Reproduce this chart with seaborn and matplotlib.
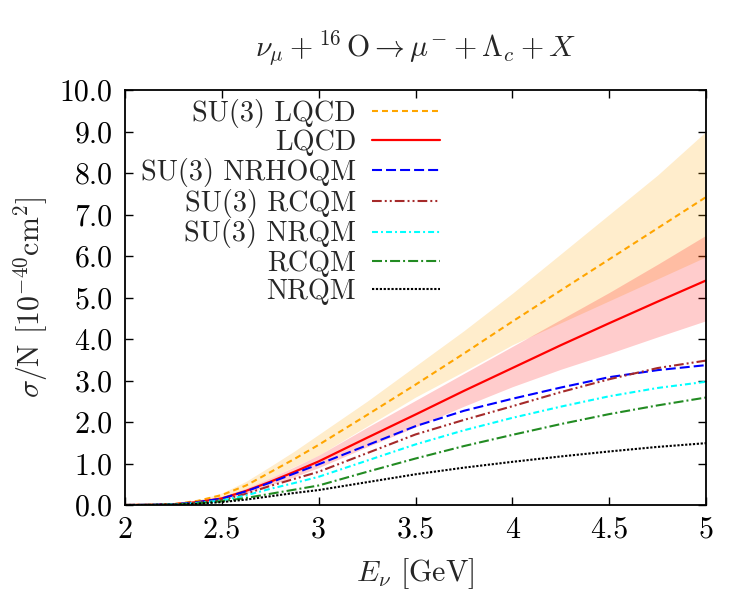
import numpy as np
import pandas as pd
import matplotlib
matplotlib.use("Agg")
import matplotlib.pyplot as plt
import seaborn as sns
from matplotlib.ticker import FormatStrFormatter

# ---------------- data ----------------
E_nu = [2.0, 2.125, 2.25, 2.375, 2.5, 2.625, 2.75, 2.875, 3.0, 3.25, 3.5, 3.75,
        4.0, 4.25, 4.5, 4.75, 5.0]

su3_lqcd       = [0, 0.005, 0.02, 0.10, 0.24, 0.47, 0.79, 1.11, 1.45, 2.17, 2.90, 3.65,
                  4.42, 5.17, 5.92, 6.67, 7.42]
su3_lqcd_upper = [0, 0.006, 0.025, 0.12, 0.29, 0.57, 0.93, 1.30, 1.70, 2.50, 3.35, 4.20,
                  5.10, 6.05, 7.00, 7.95, 9.00]
su3_lqcd_lower = [0, 0.004, 0.015, 0.08, 0.19, 0.39, 0.65, 0.93, 1.20, 1.90, 2.60, 3.22,
                  3.86, 4.39, 4.92, 5.45, 5.98]

lqcd           = [0, 0.004, 0.018, 0.07, 0.16, 0.34, 0.56, 0.80, 1.05, 1.62, 2.18, 2.75,
                  3.30, 3.85, 4.38, 4.90, 5.41]
lqcd_upper     = [0, 0.005, 0.022, 0.085, 0.19, 0.40, 0.65, 0.92, 1.20, 1.87, 2.52, 3.17,
                  3.82, 4.47, 5.12, 5.80, 6.50]
lqcd_lower     = [0, 0.003, 0.015, 0.06, 0.13, 0.28, 0.48, 0.68, 0.90, 1.40, 1.88, 2.38,
                  2.85, 3.27, 3.65, 4.05, 4.44]

su3_nrhoqm     = [0, 0.004, 0.017, 0.068, 0.155, 0.33, 0.54, 0.76, 0.98, 1.44, 1.90, 2.27,
                  2.56, 2.83, 3.08, 3.25, 3.37]
su3_rcqm       = [0, 0.003, 0.014, 0.055, 0.12, 0.27, 0.46, 0.63, 0.80, 1.25, 1.70, 2.05,
                  2.38, 2.72, 3.03, 3.30, 3.48]
su3_nrqm       = [0, 0.003, 0.012, 0.05, 0.11, 0.23, 0.39, 0.53, 0.68, 1.07, 1.46, 1.80,
                  2.10, 2.37, 2.62, 2.82, 2.97]
rcqm           = [0, 0.002, 0.010, 0.04, 0.09, 0.17, 0.27, 0.37, 0.47, 0.80, 1.12, 1.42,
                  1.69, 1.95, 2.19, 2.40, 2.59]
nrqm           = [0, 0.002, 0.008, 0.03, 0.07, 0.13, 0.21, 0.29, 0.36, 0.55, 0.74, 0.90,
                  1.04, 1.17, 1.29, 1.40, 1.49]

labels = ["SU(3) LQCD", "LQCD", "SU(3) NRHOQM", "SU(3) RCQM", "SU(3) NRQM", "RCQM", "NRQM"]
x_ticks = [2, 2.5, 3, 3.5, 4, 4.5, 5]
y_ticks = [0, 1, 2, 3, 4, 5, 6, 7, 8, 9, 10]

# ---------------- style ----------------
sns.set_theme(style="ticks")
plt.rcParams.update({
    "font.family": ["serif"],
    "font.serif": ["cmr10", "DejaVu Serif"],
    "mathtext.fontset": "cm",
    "axes.formatter.use_mathtext": True,
    "axes.unicode_minus": False,
    "font.size": 21,
    "lines.scale_dashes": False,
})
FS = 21.5
LFS = 20.3

fig = plt.figure(figsize=(7.5, 6), dpi=100)
ax = fig.add_axes([125 / 750, 95 / 600, 581 / 750, 415 / 600])

# bands
ax.fill_between(E_nu, su3_lqcd_lower, su3_lqcd_upper, color="#FFA500", alpha=0.2, lw=0)
ax.fill_between(E_nu, lqcd_lower, lqcd_upper, color="#FF0000", alpha=0.2, lw=0)

series = [
    (su3_lqcd,   "#FFA500", (0, (4.3, 2.9)), 1.5),
    (lqcd,       "#FF0000", "-", 1.6),
    (su3_nrhoqm, "#0000FF", (0, (7.2, 2.9)), 1.5),
    (su3_rcqm,   "#A52A2A", (0, (7.0, 2.2, 1.4, 2.2, 1.4, 2.2)), 1.5),
    (su3_nrqm,   "#00FFFF", (0, (4.3, 2.2, 1.4, 2.2)), 1.5),
    (rcqm,       "#228B22", (0, (7.2, 2.2, 1.4, 2.2)), 1.5),
    (nrqm,       "#000000", (0, (1.6, 1.2)), 1.5),
]

handles = []
for (vals, col, ls, lw), lab in zip(series, labels):
    df = pd.DataFrame({"E": E_nu, "s": vals})
    sns.lineplot(data=df, x="E", y="s", ax=ax, color=col, linestyle=ls, lw=lw,
                 label=lab, legend=False)
    handles.append(ax.lines[-1])

ax.set_xlim(2, 5)
ax.set_ylim(0, 10)
ax.set_xticks(x_ticks)
ax.set_yticks(y_ticks)
ax.xaxis.set_major_formatter(FormatStrFormatter("%g"))
ax.yaxis.set_major_formatter(FormatStrFormatter("%.1f"))
ax.tick_params(direction="in", top=True, right=True, length=6, width=1.0,
               labelsize=FS, colors="black")
ax.tick_params(axis="x", pad=8)
ax.tick_params(axis="y", pad=9)
for sp in ax.spines.values():
    sp.set_linewidth(1.3)
    sp.set_color("black")

ax.set_xlabel(r"$E_\nu$ [GeV]", fontsize=FS, labelpad=9)
ax.set_ylabel(r"$\sigma$/N [10$^{-40}$cm$^2$]", fontsize=FS, labelpad=7)
ax.set_title(r"$\nu_\mu +^{16}\,\mathrm{O} \rightarrow \mu^{-} + \Lambda_c + X$",
             fontsize=FS, pad=24)

leg = ax.legend(handles=handles, labels=labels, loc="upper right",
                bbox_to_anchor=(0.542, 0.978), frameon=False, markerfirst=False,
                handlelength=2.4, handletextpad=0.57, labelspacing=0.06,
                borderpad=0, borderaxespad=0, fontsize=LFS)

fig.savefig("out.png", dpi=100)
